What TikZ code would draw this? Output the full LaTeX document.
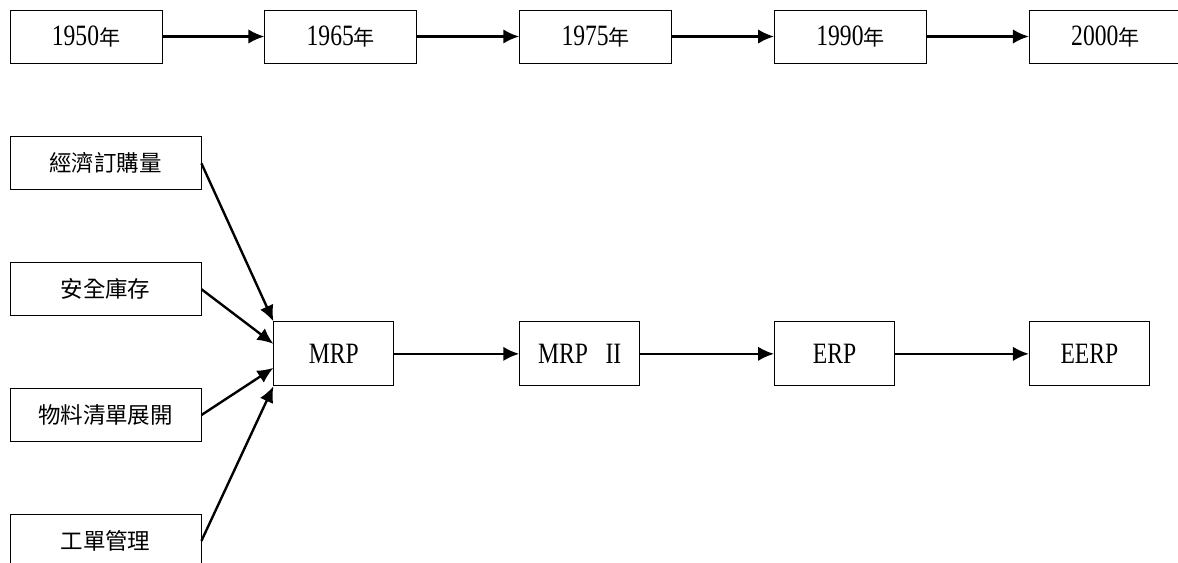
\documentclass[tikz,border=0pt]{standalone}
\usepackage{fontspec}
\setmainfont{Liberation Serif}[FakeStretch=0.8]
\newfontfamily\cjk{Noto Sans CJK TC}
\usetikzlibrary{positioning,arrows.meta}

\newcommand{\nianzi}{{\cjk\fontsize{15}{18}\selectfont 年}}

\begin{document}
\begin{tikzpicture}[>={Latex[length=4mm,width=3.6mm]},
  yearbox/.style={draw, line width=0.6pt, minimum width=3.8cm, minimum height=1.325cm,
    font=\fontsize{21}{25}\selectfont},
  factorbox/.style={draw, line width=0.6pt, minimum width=4.775cm, minimum height=1.325cm,
    font=\cjk\fontsize{16}{19}\selectfont},
  sysbox/.style={draw, line width=0.6pt, minimum width=3cm, minimum height=1.6cm,
    font=\fontsize{21}{25}\selectfont},
  link/.style={->, line width=1.7pt}]
\useasboundingbox (-2.15,0.9125) rectangle (27.3,-13.1375);
% timeline
\node[yearbox] (y1950) {1950\nianzi};
\node[yearbox, right=2.55cm of y1950] (y1965) {1965\nianzi};
\node[yearbox, right=2.55cm of y1965] (y1975) {1975\nianzi};
\node[yearbox, right=2.55cm of y1975] (y1990) {1990\nianzi};
\node[yearbox, right=2.55cm of y1990] (y2000) {2000\nianzi};
\draw[link] (y1950) -- (y1965);
\draw[link] (y1965) -- (y1975);
\draw[link] (y1975) -- (y1990);
\draw[link] (y1990) -- (y2000);
% inputs of MRP
\node[factorbox, below=1.825cm of y1950.south west, anchor=north west] (eoq) {經濟訂購量};
\node[factorbox, below=1.8cm of eoq] (safety) {安全庫存};
\node[factorbox, below=1.8cm of safety] (bom) {物料清單展開};
\node[factorbox, below=1.8cm of bom] (order) {工單管理};
% systems
\node[sysbox, below=6.45cm of y1975.south west, anchor=north west] (mrp2) {MRP\hspace{0.6em}II};
\node[sysbox, left=3.125cm of mrp2] (mrp) {MRP};
\node[sysbox, below=6.45cm of y1990.south west, anchor=north west] (erp) {ERP};
\node[sysbox, below=6.45cm of y2000.south west, anchor=north west] (eerp) {EERP};
\draw[link] (eoq.east) -- (mrp.north west);
\draw[link] (safety.east) -- ([yshift=0.25cm]mrp.west);
\draw[link] (bom.east) -- ([yshift=-0.35cm]mrp.west);
\draw[link] (order.east) -- (mrp.south west);
\draw[link] (mrp) -- (mrp2);
\draw[link] (mrp2) -- (erp);
\draw[link] (erp) -- (eerp);
\end{tikzpicture}
\end{document}
